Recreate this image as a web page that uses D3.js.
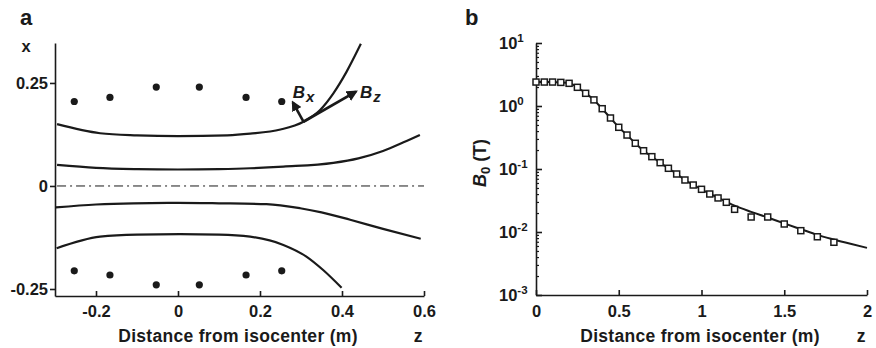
<!DOCTYPE html>
<html><head><meta charset="utf-8">
<script src="https://cdn.jsdelivr.net/npm/d3@7"></script>
<style>
body{margin:0;background:#fff;}
text{font-family:"Liberation Sans",Arial,Helvetica,sans-serif;font-weight:bold;fill:#1a1a1a;}
</style></head>
<body><svg id="c" width="876" height="348"></svg>
<script>
// ---------- Panel a data ----------
const coilZ = [-0.253, -0.166, -0.053, 0.052, 0.166, 0.253];
const coilXTop = [0.205, 0.215, 0.240, 0.240, 0.215, 0.205];
const coilXBottom = [-0.206, -0.216, -0.240, -0.240, -0.216, -0.206];
const fieldLine1 = [[-0.295,0.150],[-0.19,0.128],[-0.1,0.123],[0,0.121],[0.12,0.123],[0.176,0.127],[0.25,0.137],[0.306,0.156],[0.346,0.184],[0.379,0.225],[0.411,0.277],[0.446,0.345]];
const fieldLine2 = [[-0.295,0.051],[-0.2,0.044],[-0.1,0.041],[0,0.040],[0.1,0.041],[0.176,0.043],[0.257,0.047],[0.379,0.056],[0.44,0.067],[0.5,0.085],[0.55,0.106],[0.59,0.124]];
const fieldLine3 = [[-0.298,-0.052],[-0.2,-0.045],[-0.109,-0.042],[0,-0.041],[0.1,-0.042],[0.216,-0.044],[0.298,-0.054],[0.35,-0.064],[0.42,-0.082],[0.5,-0.104],[0.592,-0.128]];
const fieldLine4 = [[-0.296,-0.151],[-0.19,-0.123],[-0.1,-0.118],[0.005,-0.117],[0.1,-0.118],[0.176,-0.123],[0.257,-0.143],[0.314,-0.172],[0.354,-0.204],[0.399,-0.247]];
const arrowOrigin = [0.306, 0.156];
const bxTip = [0.280, 0.203];
const bzTip = [0.434, 0.229];
const aXTicks = [-0.2, 0, 0.2, 0.4, 0.6];
const aYTicks = [-0.25, 0, 0.25];

// ---------- Panel b data ----------
const measZ = [0,0.05,0.1,0.15,0.2,0.25,0.3,0.35,0.4,0.45,0.5,0.55,0.6,0.65,0.7,0.75,0.8,0.85,0.9,0.95,1.0,1.05,1.1,1.15,1.2,1.3,1.4,1.5,1.6,1.7,1.8];
const measB = [2.40,2.40,2.40,2.37,2.29,1.98,1.59,1.25,0.906,0.645,0.459,0.346,0.256,0.195,0.157,0.126,0.1026,0.0833,0.0669,0.0557,0.0476,0.0401,0.0347,0.0296,0.0229,0.0173,0.0173,0.0134,0.0105,0.0084,0.00687];
const calcZ = [0,0.1,0.15,0.2,0.25,0.3,0.35,0.4,0.45,0.5,0.55,0.6,0.65,0.7,0.75,0.8,0.85,0.9,1.0,1.1,1.2,1.3,1.4,1.5,1.6,1.7,1.8,1.9,2.0];
const calcB = [2.40,2.40,2.37,2.29,1.98,1.59,1.25,0.906,0.645,0.459,0.346,0.256,0.195,0.157,0.126,0.1026,0.0833,0.0669,0.0476,0.0350,0.0262,0.0209,0.0170,0.0137,0.0111,0.0090,0.0076,0.0065,0.0056];
const bXTicks = [0, 0.5, 1, 1.5, 2];
const bYTicks = [1e-3, 1e-2, 1e-1, 1e0, 1e1];

const ink = "#1a1a1a";
const svg = d3.select("#c");
const tickFont = "16.5px";

// ================= Panel a =================
const xA = d3.scaleLinear().domain([-0.3, 0.6]).range([55, 424]);
const yA = d3.scaleLinear().domain([-0.267, 0.347]).range([296, 43]);
const gA = svg.append("g");

const yAxA = gA.append("g").attr("transform","translate(55,0)")
  .call(d3.axisLeft(yA).tickValues(aYTicks).tickSize(5).tickSizeOuter(0).tickPadding(2)
        .tickFormat(d => d === 0 ? "0" : String(d)));
const xAxA = gA.append("g").attr("transform","translate(0,296)")
  .call(d3.axisBottom(xA).tickValues(aXTicks).tickSize(-5).tickSizeOuter(0).tickPadding(9)
        .tickFormat(d => d === 0 ? "0" : String(d)));
[yAxA, xAxA].forEach(g => {
  g.selectAll("path,line").attr("stroke", ink).attr("stroke-width", 1.6);
  g.selectAll("text").style("font-size", tickFont).attr("fill", ink).attr("font-family",null);
});

// center line (dash-dot)
gA.append("line").attr("x1", xA(-0.295)).attr("x2", xA(0.6)).attr("y1", yA(0)).attr("y2", yA(0))
  .attr("stroke", ink).attr("stroke-width", 1).attr("stroke-dasharray","9,4,2,4");

const lineA = d3.line().x(d => xA(d[0])).y(d => yA(d[1])).curve(d3.curveMonotoneX);
[fieldLine1, fieldLine2, fieldLine3, fieldLine4].forEach(fl => {
  gA.append("path").attr("d", lineA(fl)).attr("fill","none").attr("stroke", ink).attr("stroke-width", 2.2);
});

// coils
[coilXTop, coilXBottom].forEach(row => {
  gA.selectAll(null).data(coilZ.map((z,i) => [z, row[i]])).enter().append("circle")
    .attr("cx", d => xA(d[0])).attr("cy", d => yA(d[1])).attr("r", 3.6).attr("fill", ink);
});

// arrows
const defs = svg.append("defs");
defs.append("marker").attr("id","ah").attr("viewBox","0 0 10 10").attr("refX",8).attr("refY",5)
  .attr("markerWidth",4).attr("markerHeight",4).attr("orient","auto")
  .append("path").attr("d","M0,0 L10,5 L0,10 z").attr("fill", ink);
gA.append("line").attr("x1", xA(arrowOrigin[0])).attr("y1", yA(arrowOrigin[1]))
  .attr("x2", xA(bxTip[0])).attr("y2", yA(bxTip[1])).attr("stroke", ink).attr("stroke-width", 2.6)
  .attr("marker-end","url(#ah)");
gA.append("line").attr("x1", xA(arrowOrigin[0])).attr("y1", yA(arrowOrigin[1]))
  .attr("x2", xA(bzTip[0])).attr("y2", yA(bzTip[1])).attr("stroke", ink).attr("stroke-width", 2.8)
  .attr("marker-end","url(#ah)");
function bLabel(x, y, sub) {
  const t = gA.append("text").attr("x", x).attr("y", y).style("font-size","17px").style("font-style","italic");
  t.append("tspan").text("B");
  t.append("tspan").text(sub).attr("dy", 4).attr("dx", 1).style("font-size","15px");
}
bLabel(xA(bxTip[0]) + 0, yA(bxTip[1]) - 4, "x");
bLabel(xA(bzTip[0]) + 4, yA(bzTip[1]) + 6, "z");

// labels
gA.append("text").attr("x", 20).attr("y", 25).style("font-size","22px").text("a");
gA.append("text").attr("x", 26).attr("y", 52).attr("text-anchor","middle").style("font-size","16.5px").text("x");
gA.append("text").attr("x", 238).attr("y", 342).attr("text-anchor","middle").style("font-size","17.5px")
  .style("letter-spacing","0.3px").text("Distance from isocenter (m)");
gA.append("text").attr("x", 418).attr("y", 342).attr("text-anchor","middle").style("font-size","17.5px").text("z");

// ================= Panel b =================
const xB = d3.scaleLinear().domain([0, 2]).range([536, 867]);
const yB = d3.scaleLog().domain([1e-3, 1e1]).range([295, 43]);
const gB = svg.append("g");

const minor = [];
for (let e = -3; e < 1; e++) for (let m = 2; m <= 9; m++) minor.push(m * Math.pow(10, e));
const yMinor = gB.append("g").attr("transform","translate(536,0)")
  .call(d3.axisRight(yB).tickValues(minor).tickSize(3).tickFormat(""));
yMinor.select(".domain").remove();
const yAxB = gB.append("g").attr("transform","translate(536,0)")
  .call(d3.axisLeft(yB).tickValues(bYTicks).tickSize(-6).tickSizeOuter(0).tickFormat(""));
const xAxB = gB.append("g").attr("transform","translate(0,295)")
  .call(d3.axisBottom(xB).tickValues(bXTicks).tickSize(-5).tickSizeOuter(0).tickPadding(10)
        .tickFormat(d => String(d)));
[yMinor, yAxB, xAxB].forEach(g => {
  g.selectAll("path,line").attr("stroke", ink).attr("stroke-width", 1.6);
  g.selectAll("text").style("font-size", tickFont).attr("fill", ink).attr("font-family",null);
});
yMinor.selectAll("line").attr("stroke-width", 1.2);

// y tick labels 10^n
gB.selectAll(null).data(bYTicks).enter().append("text")
  .attr("x", 499).attr("y", d => yB(d) + 6).style("font-size", tickFont)
  .each(function(d) {
    const t = d3.select(this);
    t.append("tspan").text("10");
    t.append("tspan").text(String(Math.round(Math.log10(d)))).attr("dy", -7).style("font-size","11.5px");
  });

// calculated curve
const lineB = d3.line().x((d,i) => xB(calcZ[i])).y((d,i) => yB(calcB[i])).curve(d3.curveMonotoneX);
gB.append("path").attr("d", lineB(calcZ)).attr("fill","none").attr("stroke", ink).attr("stroke-width", 2);

// measured squares
gB.selectAll(null).data(measZ).enter().append("rect")
  .attr("x", (d,i) => xB(d) - 3).attr("y", (d,i) => yB(measB[i]) - 3)
  .attr("width", 6).attr("height", 6).attr("fill","#fff").attr("stroke", ink).attr("stroke-width", 1.5);

// labels
gB.append("text").attr("x", 465).attr("y", 25).style("font-size","22px").text("b");
const yt = gB.append("text").attr("transform","translate(486,163) rotate(-90)").attr("text-anchor","middle")
  .style("font-size","18px");
yt.append("tspan").text("B").style("font-style","italic");
yt.append("tspan").text("0").attr("dy", 4).style("font-size","13px");
yt.append("tspan").text(" (T)").attr("dy", -4);
gB.append("text").attr("x", 700).attr("y", 342).attr("text-anchor","middle").style("font-size","17.5px")
  .style("letter-spacing","0.3px").text("Distance from isocenter (m)");
gB.append("text").attr("x", 861).attr("y", 342).attr("text-anchor","middle").style("font-size","17.5px").text("z");
</script></body></html>
